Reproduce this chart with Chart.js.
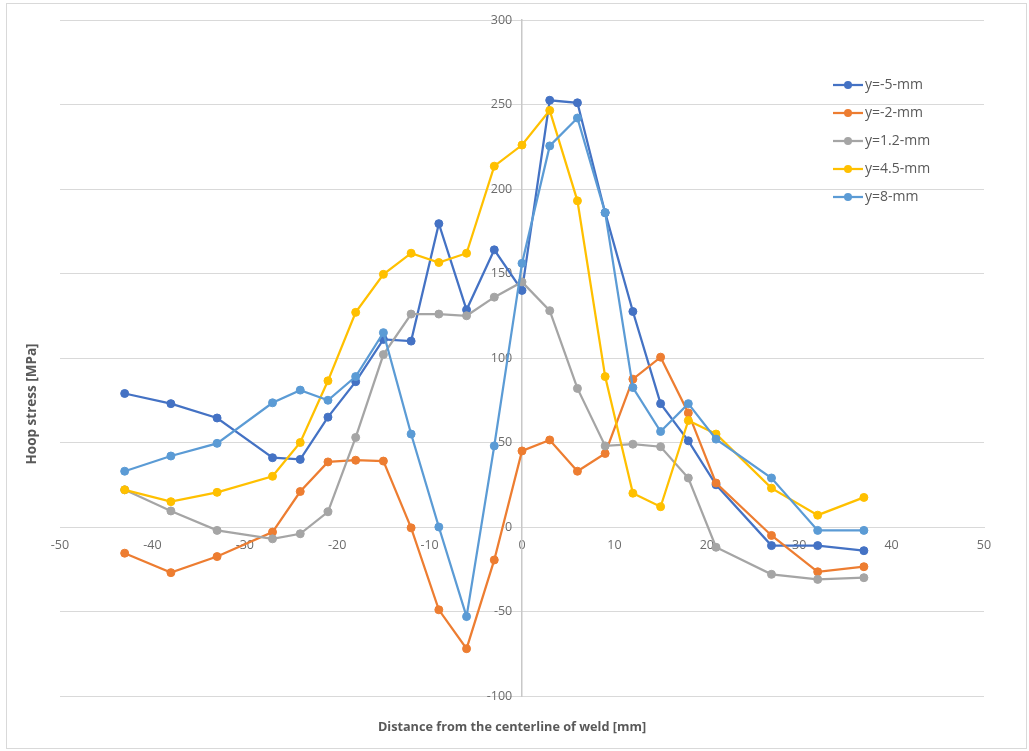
<!DOCTYPE html>
<html>
<head>
<meta charset="utf-8">
<script src="https://cdn.jsdelivr.net/npm/chart.js@4.4.1/dist/chart.umd.min.js"></script>
<style>
  html, body { margin: 0; padding: 0; background: #ffffff; }
  #wrap { width: 1029px; height: 751px; position: relative; }
</style>
</head>
<body>
<div id="wrap"><canvas id="hoop"></canvas></div>
<script>
// Distance from the weld centerline [mm]
const distance = [-43, -38, -33, -27, -24, -21, -18, -15, -12, -9, -6, -3, 0, 3, 6, 9, 12, 15, 18, 21, 27, 32, 37];

// Hoop stress [MPa] at each depth
const stressYm5  = [79, 73, 64.5, 41, 40, 65, 86, 111, 110, 179.5, 128.5, 164, 140, 252.5, 251, 186, 127.5, 73, 51, 25, -11, -11, -14];
const stressYm2  = [-15.5, -27, -17.5, -3, 21, 38.5, 39.5, 39, -0.5, -49, -72, -19.5, 45, 51.5, 33, 43.5, 87.5, 100.5, 67.5, 26, -5, -26.5, -23.5];
const stressY1_2 = [22, 9.5, -2, -7, -4, 9, 53, 102, 126, 126, 125, 136, 145, 128, 82, 48, 49, 47.5, 29, -12, -28, -31, -30];
const stressY4_5 = [22, 15, 20.5, 30, 50, 86.5, 127, 149.5, 162, 156.5, 162, 213.5, 226, 246.5, 193, 89, 20, 12, 63, 55, 23, 7, 17.5];
const stressY8   = [33, 42, 49.5, 73.5, 81, 75, 89, 115, 55, 0, -53, 48, 156, 225.5, 242, 186, 82.5, 56.5, 73, 52, 29, -2, -2];

const seriesNames  = ['y=-5-mm', 'y=-2-mm', 'y=1.2-mm', 'y=4.5-mm', 'y=8-mm'];
const seriesValues = [stressYm5, stressYm2, stressY1_2, stressY4_5, stressY8];
const seriesColors = ['#4472C4', '#ED7D31', '#A5A5A5', '#FFC000', '#5B9BD5'];

// Axis ranges and tick steps
const xRange = [-50, 50];
const xStep = 10;
const yRange = [-100, 300];
const yStep = 50;

const xTitle = 'Distance from the centerline of weld [mm]';
const yTitle = 'Hoop stress [MPa]';

const FONT = '"Open Sans", "DejaVu Sans", sans-serif';
const TEXT_GRAY = '#595959';

const datasets = seriesNames.map((name, i) => ({
  label: name,
  data: distance.map((d, k) => ({ x: d, y: seriesValues[i][k] })),
  borderColor: seriesColors[i],
  backgroundColor: seriesColors[i],
  pointBackgroundColor: seriesColors[i],
  pointBorderColor: seriesColors[i],
  borderWidth: 2.25,
  pointRadius: 4,
  pointBorderWidth: 1,
  pointHoverRadius: 4,
  tension: 0,
  showLine: true,
  order: seriesNames.length - 1 - i   // later series painted on top
}));

// Outer frame around the whole chart
const framePlugin = {
  id: 'frame',
  beforeDraw(chart) {
    const ctx = chart.ctx;
    ctx.save();
    ctx.fillStyle = '#ffffff';
    ctx.fillRect(0, 0, chart.width, chart.height);
    ctx.strokeStyle = '#d9d9d9';
    ctx.lineWidth = 1;
    ctx.strokeRect(6.5, 3.5, chart.width - 9, chart.height - 6);
    ctx.restore();
  }
};

// Axis titles and the line-and-marker legend inside the plot
const decorPlugin = {
  id: 'decor',
  afterDraw(chart) {
    const ctx = chart.ctx;
    const area = chart.chartArea;
    ctx.save();
    ctx.fillStyle = TEXT_GRAY;
    ctx.textAlign = 'center';
    ctx.textBaseline = 'middle';
    ctx.font = 'bold 12.7px ' + FONT;
    ctx.fillText(xTitle, (area.left + area.right) / 2 - 10, 727);

    ctx.save();
    ctx.translate(32, 404);
    ctx.rotate(-Math.PI / 2);
    ctx.font = 'bold 13.5px ' + FONT;
    ctx.fillText(yTitle, 0, 0);
    ctx.restore();

    // legend
    const lx = 833, ly = 85, rowH = 28;
    chart.data.datasets.forEach((ds, i) => {
      const y = ly + i * rowH;
      ctx.strokeStyle = ds.borderColor;
      ctx.lineWidth = 2.25;
      ctx.beginPath();
      ctx.moveTo(lx, y);
      ctx.lineTo(lx + 30, y);
      ctx.stroke();
      ctx.fillStyle = ds.borderColor;
      ctx.beginPath();
      ctx.arc(lx + 15, y, 4, 0, Math.PI * 2);
      ctx.fill();
      ctx.fillStyle = TEXT_GRAY;
      ctx.font = '14px ' + FONT;
      ctx.textAlign = 'left';
      ctx.textBaseline = 'middle';
      ctx.fillText(ds.label, lx + 32, y);
    });
    ctx.restore();
  }
};

new Chart(document.getElementById('hoop'), {
  type: 'scatter',
  data: { datasets },
  options: {
    responsive: true,
    maintainAspectRatio: false,
    animation: false,
    layout: { padding: { left: 60, right: 45, top: 20, bottom: 55 } },
    plugins: {
      legend: { display: false },
      tooltip: { enabled: false },
      title: { display: false }
    },
    scales: {
      x: {
        type: 'linear',
        min: xRange[0],
        max: xRange[1],
        position: { y: 0 },
        grid: { display: false, drawTicks: false },
        border: { display: true, color: '#d9d9d9', width: 1 },
        ticks: {
          stepSize: xStep,
          padding: 11,
          color: '#6b6b6b',
          font: { family: FONT, size: 12.5 },
          maxRotation: 0
        }
      },
      y: {
        type: 'linear',
        min: yRange[0],
        max: yRange[1],
        position: { x: 0 },
        grid: { color: '#d9d9d9', lineWidth: 1, drawTicks: false },
        border: { display: true, color: '#c8c8c8', width: 1.5 },
        ticks: {
          stepSize: yStep,
          color: '#6b6b6b',
          font: { family: FONT, size: 12.5 },
          // keep a gap between the labels and the centred axis line
          callback: (v) => v + '   '
        }
      }
    }
  },
  plugins: [framePlugin, decorPlugin]
});
</script>
</body>
</html>
